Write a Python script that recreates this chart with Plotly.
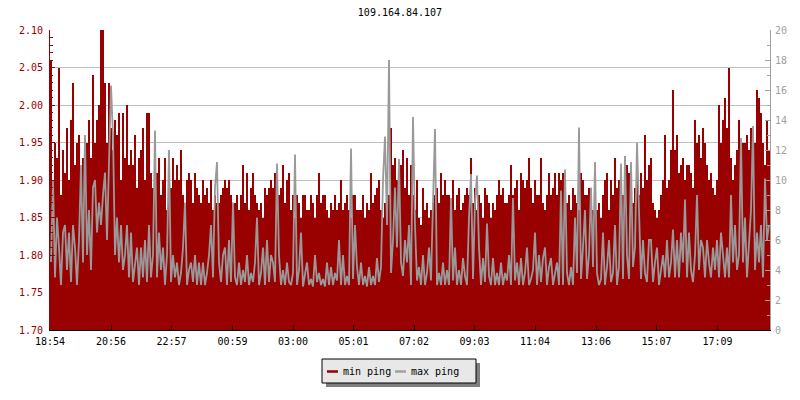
import plotly.graph_objects as go

chart_title = "109.164.84.107"
tick_labels = ["18:54", "20:56", "22:57", "00:59", "03:00", "05:01",
               "07:02", "09:03", "11:04", "13:06", "15:07", "17:09"]
tick_minutes = [0, 122, 243, 365, 486, 607, 728, 849, 970, 1092, 1213, 1335]
sample_step_min = 4  # minutes between samples
legend_names = ["min ping", "max ping"]

# min ping (ms, left axis) - filled red area
min_ping = [
    2.06, 1.90, 1.95, 1.93, 2.05, 1.88, 1.94, 1.91, 1.97, 1.90, 1.98, 2.03, 1.92, 1.95, 1.96,
    1.91, 1.93, 1.89, 1.95, 1.98, 1.93, 2.04, 1.95, 1.98, 2.00, 2.10, 2.10, 2.03, 1.95, 2.03,
    1.97, 1.94, 1.98, 1.96, 1.99, 1.90, 1.99, 1.93, 2.00, 1.92, 1.94, 1.92, 1.96, 1.89, 1.93,
    1.94, 1.97, 1.90, 1.99, 1.99, 1.91, 1.89, 1.90, 1.91, 1.93, 1.88, 1.90, 1.93, 1.86, 1.89,
    1.89, 1.93, 1.90, 1.92, 1.90, 1.94, 1.88, 1.86, 1.90, 1.91, 1.90, 1.87, 1.91, 1.89, 1.88,
    1.87, 1.90, 1.88, 1.89, 1.87, 1.90, 1.86, 1.88, 1.87, 1.87, 1.88, 1.89, 1.90, 1.89, 1.90,
    1.88, 1.86, 1.87, 1.88, 1.86, 1.88, 1.92, 1.87, 1.91, 1.86, 1.89, 1.91, 1.88, 1.87, 1.86,
    1.87, 1.85, 1.89, 1.88, 1.89, 1.90, 1.89, 1.91, 1.86, 1.88, 1.89, 1.92, 1.87, 1.90, 1.91,
    1.86, 1.88, 1.85, 1.88, 1.87, 1.85, 1.88, 1.88, 1.86, 1.86, 1.88, 1.87, 1.85, 1.88, 1.91,
    1.87, 1.88, 1.88, 1.86, 1.85, 1.87, 1.86, 1.88, 1.86, 1.87, 1.90, 1.86, 1.87, 1.88, 1.86,
    1.85, 1.88, 1.88, 1.86, 1.86, 1.86, 1.88, 1.85, 1.87, 1.86, 1.91, 1.87, 1.88, 1.89, 1.90,
    1.86, 1.85, 1.87, 1.88, 1.88, 1.97, 1.92, 1.93, 1.90, 1.89, 1.92, 1.94, 1.89, 1.93, 1.88,
    1.92, 1.88, 1.86, 1.90, 1.85, 1.84, 1.89, 1.86, 1.87, 1.85, 1.86, 1.87, 1.88, 1.89, 1.87,
    1.91, 1.88, 1.90, 1.88, 1.88, 1.87, 1.90, 1.86, 1.88, 1.89, 1.86, 1.87, 1.88, 1.89, 1.88,
    1.93, 1.87, 1.89, 1.86, 1.88, 1.87, 1.85, 1.89, 1.88, 1.87, 1.85, 1.87, 1.86, 1.88, 1.90,
    1.88, 1.89, 1.87, 1.87, 1.88, 1.92, 1.88, 1.89, 1.90, 1.86, 1.91, 1.90, 1.89, 1.90, 1.93,
    1.89, 1.87, 1.90, 1.88, 1.88, 1.93, 1.87, 1.86, 1.88, 1.91, 1.88, 1.89, 1.91, 1.88, 1.91,
    1.90, 1.91, 1.88, 1.87, 1.88, 1.86, 1.89, 1.88, 1.87, 1.86, 1.91, 1.90, 1.88, 1.88, 1.89,
    1.87, 1.86, 1.88, 1.86, 1.87, 1.85, 1.88, 1.90, 1.91, 1.86, 1.90, 1.88, 1.93, 1.89, 1.90,
    1.88, 1.88, 1.89, 1.92, 1.91, 1.90, 1.87, 1.89, 1.90, 1.88, 1.91, 1.89, 1.96, 1.90, 1.92,
    1.93, 1.87, 1.86, 1.85, 1.86, 1.88, 1.90, 1.96, 1.89, 1.90, 1.94, 2.02, 1.94, 1.96, 1.91,
    1.92, 1.93, 1.90, 1.92, 1.92, 1.91, 1.89, 1.98, 1.95, 1.96, 1.93, 1.97, 1.95, 1.92, 1.90,
    1.91, 1.89, 1.88, 1.90, 2.00, 1.95, 1.98, 2.01, 1.97, 2.05, 1.93, 1.90, 1.92, 1.94, 1.98,
    1.92, 1.95, 1.95, 1.96, 1.94, 1.97, 1.93, 1.95, 2.02, 2.01, 1.99, 1.95, 1.92, 1.98, 1.94,
]

# max ping (ms, right axis) - grey line drawn over the red area
max_ping = [
    4.5, 10.0, 3.5, 7.5, 5.5, 3.0, 6.5, 7.0, 4.0, 6.5, 3.2, 7.0, 5.5, 3.0, 6.0,
    11.0, 4.5, 13.0, 5.0, 8.0, 4.0, 9.5, 10.0, 6.5, 8.5, 7.0, 9.0, 10.5, 6.0, 10.5,
    16.3, 13.0, 5.0, 7.5, 4.5, 7.0, 4.0, 5.0, 7.0, 3.5, 6.5, 3.2, 4.5, 5.5, 3.0,
    5.5, 3.5, 6.0, 3.2, 7.0, 3.5, 5.0, 13.3, 3.5, 6.5, 4.0, 5.5, 3.0, 5.0, 12.0,
    3.2, 5.0, 3.5, 4.5, 3.0, 3.8, 5.5, 8.5, 3.0, 4.0, 4.5, 3.2, 5.0, 3.0, 4.5,
    3.0, 4.5, 3.0, 3.8, 5.0, 7.0, 3.5, 9.5, 11.2, 4.5, 3.2, 5.0, 5.5, 3.0, 6.0,
    3.2, 8.5, 3.5, 3.0, 4.5, 3.0, 4.0, 3.2, 5.0, 3.0, 3.8, 3.2, 4.5, 7.5, 3.0,
    3.8, 5.5, 3.0, 6.0, 3.2, 5.0, 4.5, 3.2, 11.1, 5.0, 3.0, 4.0, 3.0, 4.5, 3.2,
    3.0, 3.8, 11.7, 3.0, 4.0, 6.5, 2.9, 3.6, 4.5, 3.0, 3.4, 2.9, 5.0, 3.2, 3.8,
    3.0, 3.4, 2.9, 4.5, 3.0, 4.2, 3.0, 3.8, 3.3, 6.0, 3.0, 5.0, 3.0, 3.6, 3.0,
    12.1, 3.4, 7.0, 4.2, 3.0, 4.5, 3.0, 3.6, 2.9, 4.2, 3.0, 3.6, 3.0, 4.8, 3.2,
    4.2, 10.0, 12.9, 7.0, 18.0, 3.8, 6.0, 9.5, 5.5, 11.4, 4.5, 3.6, 6.0, 4.5, 7.0,
    3.0, 14.2, 7.0, 3.3, 4.2, 3.0, 5.0, 3.0, 3.8, 5.5, 3.3, 8.5, 13.4, 3.0, 3.8,
    3.0, 4.5, 3.0, 4.0, 3.0, 8.8, 3.3, 5.5, 3.0, 4.0, 3.0, 4.8, 3.6, 3.0, 7.5,
    10.4, 3.4, 8.5, 10.3, 5.5, 3.0, 4.8, 3.2, 7.1, 3.6, 3.0, 4.8, 3.0, 3.8, 3.0,
    4.5, 3.0, 3.8, 3.3, 5.0, 3.0, 8.8, 3.3, 4.5, 3.0, 4.8, 3.0, 3.8, 5.5, 3.0,
    3.4, 4.0, 6.5, 3.0, 5.0, 3.2, 4.8, 5.5, 3.0, 4.2, 4.8, 3.0, 3.8, 4.5, 3.0,
    9.3, 3.0, 10.7, 3.8, 3.0, 4.2, 3.0, 7.5, 3.8, 13.5, 3.4, 5.5, 8.0, 3.4, 5.0,
    9.5, 4.2, 11.2, 3.8, 3.0, 3.4, 6.5, 3.0, 4.2, 6.0, 3.2, 3.8, 7.0, 3.0, 4.2,
    11.1, 3.4, 11.6, 5.0, 3.4, 11.2, 4.2, 5.5, 12.5, 8.0, 3.4, 6.0, 3.8, 3.2, 6.0,
    6.0, 3.2, 4.5, 5.5, 3.0, 4.0, 5.0, 3.5, 6.0, 3.5, 4.5, 6.7, 3.5, 6.0, 3.5,
    6.5, 4.5, 8.7, 3.5, 6.5, 4.0, 3.2, 5.0, 9.0, 4.0, 6.0, 5.5, 3.5, 6.0, 4.5,
    3.5, 5.5, 4.0, 6.0, 3.5, 6.5, 5.0, 3.5, 5.5, 3.5, 9.0, 4.5, 7.0, 4.0, 5.0,
    12.8, 4.5, 7.5, 3.5, 5.5, 8.0, 13.6, 4.0, 6.5, 4.5, 7.0, 3.5, 10.1, 6.0, 7.0,
]

sample_minutes = [sample_step_min * i + sample_step_min / 2 for i in range(len(min_ping))]

RED = "#990000"
GREY = "#999999"
AXGREY = "#a0a0a0"
FONT = "DejaVu Sans Mono"

fig = go.Figure()
# red min ping area (left axis, main)
fig.add_trace(go.Bar(x=sample_minutes, y=min_ping, yaxis="y", width=sample_step_min,
                     marker=dict(color=RED, line=dict(width=0)), showlegend=False,
                     name=legend_names[0]))
# grey max ping line (right axis, overlaying -> drawn on top)
fig.add_trace(go.Scatter(x=sample_minutes, y=max_ping, yaxis="y2", mode="lines",
                         line=dict(color=GREY, width=1.8, shape="linear"),
                         showlegend=False, name=legend_names[1]))


def px_x(p):
    return (p - 50) / 720.0


def px_y(p):
    return (330 - p) / 300.0


shapes = [
    # legend shadow and box
    dict(type="rect", xref="paper", yref="paper", x0=px_x(326), x1=px_x(480),
         y0=px_y(363), y1=px_y(387), fillcolor="#7f7f7f", line=dict(width=0), layer="above"),
    dict(type="rect", xref="paper", yref="paper", x0=px_x(322), x1=px_x(476),
         y0=px_y(359), y1=px_y(383), fillcolor="#e8e8e8", line=dict(color="black", width=1),
         layer="above"),
    dict(type="line", xref="paper", yref="paper", x0=px_x(327), x1=px_x(338),
         y0=px_y(371.5), y1=px_y(371.5), line=dict(color=RED, width=2.5), layer="above"),
    dict(type="line", xref="paper", yref="paper", x0=px_x(395), x1=px_x(406),
         y0=px_y(371.5), y1=px_y(371.5), line=dict(color=AXGREY, width=2.5), layer="above"),
]
annotations = [
    dict(text=legend_names[0], xref="paper", yref="paper", x=px_x(341), y=px_y(371),
         xanchor="left", yanchor="middle", showarrow=False,
         font=dict(family=FONT, size=10, color="black")),
    dict(text=legend_names[1], xref="paper", yref="paper", x=px_x(409), y=px_y(371),
         xanchor="left", yanchor="middle", showarrow=False,
         font=dict(family=FONT, size=10, color="black")),
]

fig.update_layout(
    width=800, height=400,
    margin=dict(l=50, r=30, t=30, b=70, autoexpand=False),
    paper_bgcolor="white", plot_bgcolor="white",
    barmode="overlay", bargap=0, showlegend=False,
    font=dict(family=FONT, size=10, color="black"),
    title=dict(text=chart_title, x=0.5, xanchor="center", y=0.97, yanchor="middle",
               font=dict(family=FONT, size=10, color="black")),
    xaxis=dict(range=[0, 1440], tickvals=tick_minutes, ticktext=tick_labels,
               ticks="inside", ticklen=5, tickcolor="black", showline=True,
               linecolor="black", linewidth=1, showgrid=False, zeroline=False,
               ticklabelstandoff=2,
               tickfont=dict(family=FONT, size=10, color="black")),
    yaxis=dict(side="left", range=[1.70, 2.10], tick0=1.70,
               dtick=0.05, tickformat=".2f", ticks="inside", ticklen=5,
               tickcolor=RED, showline=True, linecolor=RED, showgrid=True,
               gridcolor="#c0c0c0", gridwidth=1, zeroline=False,
               ticklabelstandoff=4,
               tickfont=dict(family=FONT, size=10, color=RED),
               minor=dict(dtick=0.01, ticks="inside", ticklen=3, tickcolor=RED,
                          showgrid=False)),
    yaxis2=dict(overlaying="y", side="right", range=[0, 20], tick0=0, dtick=2,
                ticks="inside", ticklen=5, tickcolor=AXGREY, showline=True,
                linecolor=AXGREY, showgrid=False, zeroline=False, ticklabelstandoff=2,
                tickfont=dict(family=FONT, size=10, color=AXGREY),
                minor=dict(dtick=1, ticks="inside", ticklen=3, tickcolor=AXGREY,
                           showgrid=False)),
    shapes=shapes,
    annotations=annotations,
)

fig.write_html("out.html", config={"displayModeBar": False},
               post_script="document.body.style.margin='0px';")
